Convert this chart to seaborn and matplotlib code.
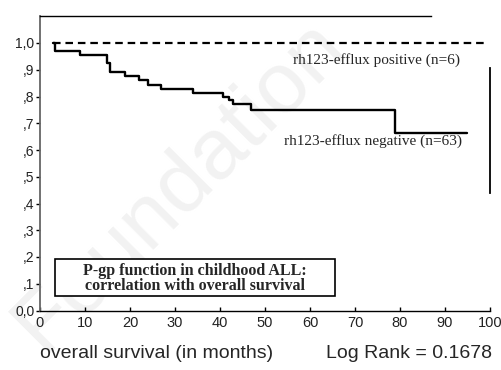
import numpy as np
import pandas as pd
import matplotlib
matplotlib.use("Agg")
import matplotlib.pyplot as plt
import matplotlib.patches as mpatches
import seaborn as sns

# ---- data ----
neg_months = [3.0, 3.4, 9.0, 15.0, 15.6, 19.0, 22.0, 24.0, 27.0, 34.0, 40.7, 42.0, 43.0, 47.0, 79.0, 95.0]
neg_surv = [1.0, 0.97, 0.955, 0.925, 0.893, 0.878, 0.861, 0.843, 0.828, 0.812, 0.80, 0.787, 0.772, 0.75, 0.665, 0.665]
pos_months = [3.0, 99.5]
pos_surv = [1.0, 1.0]

y_ticks = [0.0, 0.1, 0.2, 0.3, 0.4, 0.5, 0.6, 0.7, 0.8, 0.9, 1.0]
y_tick_labels = ["0,0", ",1", ",2", ",3", ",4", ",5", ",6", ",7", ",8", ",9", "1,0"]
x_ticks = [0, 10, 20, 30, 40, 50, 60, 70, 80, 90, 100]
x_tick_labels = ["0", "10", "20", "30", "40", "50", "60", "70", "80", "90", "100"]

label_pos = "rh123-efflux positive (n=6)"
label_neg = "rh123-efflux negative (n=63)"
box_text = "P-gp function in childhood ALL:\ncorrelation with overall survival"
xlabel_text = "overall survival (in months)"
logrank_text = "Log Rank = 0.1678"
watermark = "Foundation"

df = pd.concat([
    pd.DataFrame({"month": neg_months, "surv": neg_surv, "group": "neg"}),
    pd.DataFrame({"month": pos_months, "surv": pos_surv, "group": "pos"}),
], ignore_index=True)

sns.set_style("white")
plt.rcParams["font.family"] = ["Liberation Sans", "DejaVu Sans"]

fig = plt.figure(figsize=(5.02, 3.70), dpi=100)
ax = fig.add_axes([40 / 502, 1 - 310.5 / 370, 450 / 502, (310.5 - 16.25) / 370])
ax.patch.set_alpha(0)

# faint watermark behind everything
fig.text(180 / 502, 1 - 185 / 370, watermark, rotation=45, fontsize=62,
         color="#f2f2f2", ha="center", va="center", zorder=-5,
         family=["Liberation Sans", "DejaVu Sans"])

sns.lineplot(data=df[df.group == "neg"], x="month", y="surv", ax=ax,
             drawstyle="steps-post", color="black", lw=1.7, legend=False,
             estimator=None)
sns.lineplot(data=df[df.group == "pos"], x="month", y="surv", ax=ax,
             drawstyle="steps-post", color="black", lw=1.6, legend=False,
             estimator=None, linestyle=(0, (3.4, 2.2)))

ax.set_xlim(0, 100)
ax.set_ylim(0, 1.1)
ax.set_xticks(x_ticks)
ax.set_xticklabels(x_tick_labels)
ax.set_yticks(y_ticks)
ax.set_yticklabels(y_tick_labels)
ax.set_xlabel("")
ax.set_ylabel("")
ax.tick_params(axis="y", direction="out", length=3, width=1, pad=1,
               labelsize=10, left=True, colors="black")
ax.tick_params(axis="x", direction="in", length=3, width=1, pad=4,
               labelsize=10.5, bottom=True, colors="black")
for lab in ax.get_xticklabels() + ax.get_yticklabels():
    lab.set_color("#222222")

for s in ["left", "bottom", "top", "right"]:
    ax.spines[s].set_visible(True)
    ax.spines[s].set_color("black")
ax.spines["left"].set_color("#666666")
ax.spines["left"].set_linewidth(1.3)
ax.spines["bottom"].set_linewidth(1.0)
ax.spines["top"].set_linewidth(1.0)
ax.spines["top"].set_bounds(0, 87)
ax.spines["right"].set_linewidth(1.3)
ax.spines["right"].set_bounds(0.44, 0.905)

serif = ["Liberation Serif", "DejaVu Serif"]
ax.text(74.7, 0.935, label_pos, fontsize=11, family=serif, ha="center", va="center")
ax.text(74.1, 0.632, label_neg, fontsize=11, family=serif, ha="center", va="center")

# caption box
rect = mpatches.Rectangle((0.0333, 0.0493), 0.6556 - 0.0333, 0.175 - 0.0493,
                          transform=ax.transAxes, fc="white", ec="black",
                          lw=1.2, zorder=4)
ax.add_patch(rect)
ax.text(0.3444, 0.108, box_text, transform=ax.transAxes, fontsize=11.5,
        family=serif, fontweight="bold", ha="center", va="center",
        linespacing=0.95, zorder=5)

fig.text(40 / 502, 1 - 353 / 370, xlabel_text, fontsize=14, ha="left", va="center")
fig.text(492 / 502, 1 - 353 / 370, logrank_text, fontsize=14, ha="right", va="center")

fig.savefig("out.png", dpi=100)
